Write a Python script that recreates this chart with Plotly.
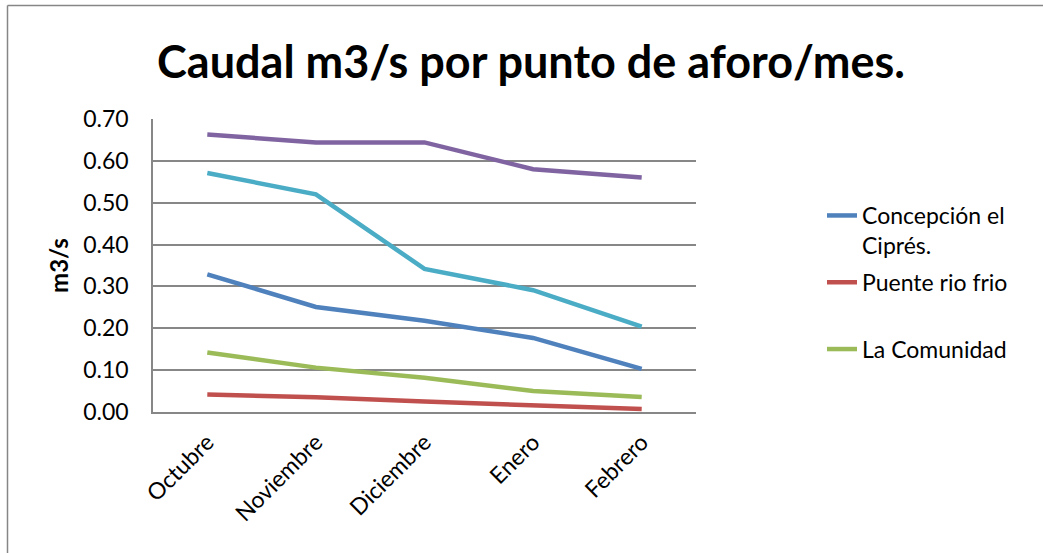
import plotly.graph_objects as go

months = ["Octubre", "Noviembre", "Diciembre", "Enero", "Febrero"]
concepcion = [0.329, 0.251, 0.218, 0.177, 0.103]
puente = [0.042, 0.035, 0.025, 0.016, 0.007]
comunidad = [0.142, 0.106, 0.082, 0.050, 0.036]
serie4 = [0.663, 0.644, 0.644, 0.580, 0.560]
serie5 = [0.571, 0.520, 0.342, 0.291, 0.204]
y_ticks = [0.0, 0.1, 0.2, 0.3, 0.4, 0.5, 0.6, 0.7]

W, H = 1043, 553
ML, MR, MT, MB = 153, 347, 119, 141
PW, PH = W - ML - MR, H - MT - MB

FONT = "Lato"
GRID = "#878787"

fig = go.Figure()
fig.add_trace(go.Scatter(x=months, y=concepcion, name="Concepción el<br>Ciprés.", mode="lines",
                         line=dict(color="#4F81BD", width=4.5), legendgroup="a"))
fig.add_trace(go.Scatter(x=months, y=puente, name="Puente rio frio<br> ", mode="lines",
                         line=dict(color="#C0504D", width=4.5), legendgroup="b"))
fig.add_trace(go.Scatter(x=months, y=comunidad, name="La Comunidad", mode="lines",
                         line=dict(color="#9BBB59", width=4.5), legendgroup="c"))
fig.add_trace(go.Scatter(x=months, y=serie4, name="Serie 4", mode="lines", showlegend=False,
                         line=dict(color="#8064A2", width=4.5)))
fig.add_trace(go.Scatter(x=months, y=serie5, name="Serie 5", mode="lines", showlegend=False,
                         line=dict(color="#4BACC6", width=4.5)))

def px_x(p):
    return (p - ML) / PW

def px_y(p):
    return (H - MB - p) / PH

fig.update_layout(
    width=W, height=H,
    margin=dict(l=ML, r=MR, t=MT, b=MB, autoexpand=False),
    paper_bgcolor="white", plot_bgcolor="white",
    font=dict(family=FONT, size=23, color="black"),
    title=dict(text="<b>Caudal m3/s por punto de aforo/mes.</b>", x=531 / W, xanchor="center",
               xref="container", y=1 - 62 / H, yanchor="middle", yref="container",
               font=dict(family=FONT, size=45, color="black")),
    xaxis=dict(type="category", range=[-0.5, 4.5], showgrid=False, showline=True,
               linecolor=GRID, linewidth=1.5, ticks="", tickangle=-45,
               tickfont=dict(size=23), ticklabelstandoff=6),
    yaxis=dict(range=[0, 0.7], tickvals=y_ticks, tickformat=".2f", showgrid=True,
               gridcolor=GRID, gridwidth=1.5, showline=True, linecolor=GRID, linewidth=1.5,
               ticks="", zeroline=False, tickfont=dict(size=23), ticklabelstandoff=18,
               title=dict(text="<b>m3/s</b>", standoff=8, font=dict(size=24))),
    legend=dict(x=px_x(822), xanchor="left", y=px_y(194), yanchor="top", valign="top",
                font=dict(size=23), bgcolor="rgba(0,0,0,0)", traceorder="grouped",
                tracegroupgap=4, itemwidth=30),
    showlegend=True,
    shapes=[
        dict(type="line", xref="paper", yref="paper", x0=px_x(7.5), x1=px_x(7.5),
             y0=px_y(553), y1=px_y(5.5), line=dict(color="#868686", width=1.5), layer="below"),
        dict(type="line", xref="paper", yref="paper", x0=px_x(7.5), x1=px_x(1043),
             y0=px_y(5.5), y1=px_y(5.5), line=dict(color="#868686", width=1.5), layer="below"),
    ],
)

fig.write_html("out.html", config={"displayModeBar": False},
               post_script="document.body.style.margin='0';document.body.style.padding='0';")
